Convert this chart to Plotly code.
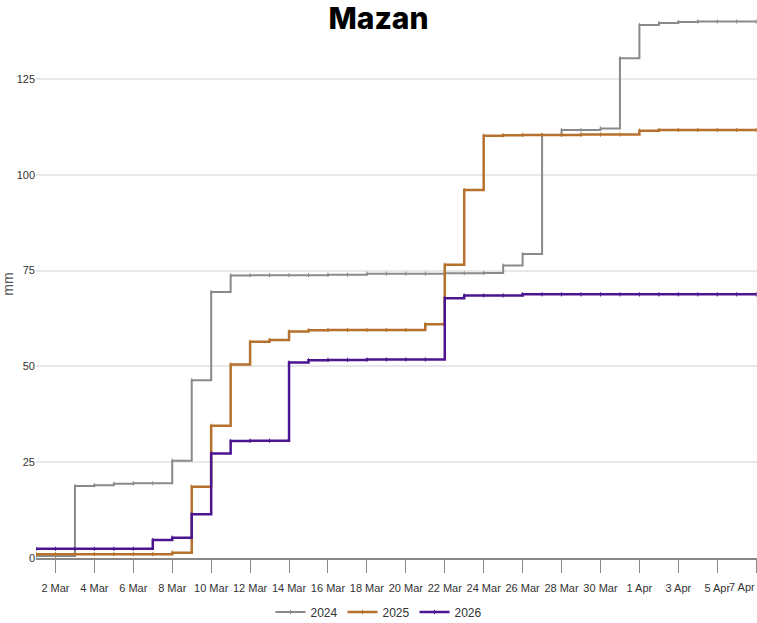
import plotly.graph_objects as go
import pandas as pd

# daily dates 1 Mar .. 7 Apr
dates = pd.date_range('2026-03-01', '2026-04-07', freq='D')

rain_2024 = [0.5, 0.5, 18.8, 19.0, 19.4, 19.5, 19.5, 25.4, 46.4, 69.4,
             73.7, 73.8, 73.8, 73.8, 73.8, 73.9, 73.9, 74.2, 74.2, 74.2,
             74.2, 74.3, 74.3, 74.4, 76.3, 79.3, 110.4, 111.7, 111.7, 112.1,
             130.4, 139.1, 139.6, 139.9, 140.0, 140.0, 140.0, 140.0]
rain_2025 = [1.0, 1.0, 1.0, 1.0, 1.0, 1.0, 1.0, 1.4, 18.6, 34.5,
             50.5, 56.4, 56.9, 59.1, 59.4, 59.5, 59.5, 59.5, 59.5, 59.5,
             61.0, 76.5, 96.0, 110.2, 110.3, 110.4, 110.4, 110.4, 110.5, 110.5,
             110.5, 111.5, 111.7, 111.7, 111.7, 111.7, 111.7, 111.7]
rain_2026 = [2.4, 2.4, 2.4, 2.4, 2.4, 2.4, 4.7, 5.3, 11.4, 27.3,
             30.5, 30.6, 30.6, 51.0, 51.6, 51.7, 51.7, 51.8, 51.8, 51.8,
             51.8, 67.8, 68.5, 68.5, 68.5, 68.8, 68.8, 68.8, 68.8, 68.8,
             68.8, 68.8, 68.8, 68.8, 68.8, 68.8, 68.8, 68.8]

series = [('2024', rain_2024, '#8a8a8a', 2),
          ('2025', rain_2025, '#b5712d', 2.5),
          ('2026', rain_2026, '#4b1490', 2.5)]

tick_dates = pd.date_range('2026-03-02', '2026-04-07', freq='2D')
tick_text = [f'{d.day} {d.strftime("%b")}' for d in tick_dates]
# the last label sits on the right edge; it is drawn as an annotation, right-aligned
last_label = tick_text[-1]
tick_text[-1] = ''

small_font = 'Liberation Sans Narrow, Arial Narrow, Liberation Sans, sans-serif'

fig = go.Figure()
for name, vals, color, width in series:
    fig.add_trace(go.Scatter(
        x=dates, y=vals, name=name, mode='lines+markers',
        line=dict(color=color, width=width, shape='hv'),
        marker=dict(symbol='line-ns', size=3, line=dict(color=color, width=1)),
    ))

fig.add_annotation(x=tick_dates[-1], xref='x', y=0, yref='paper',
                   text=last_label, showarrow=False, xanchor='right', yanchor='top',
                   yshift=-21, xshift=1,
                   font=dict(family=small_font, size=11, color='#333333'))

fig.update_layout(
    width=757, height=623,
    margin=dict(l=36, r=0, t=10, b=65),
    plot_bgcolor='white', paper_bgcolor='white',
    title=dict(text='Mazan', x=0.5, xanchor='center', y=1 - 18 / 623, yanchor='middle',
               yref='container',
               font=dict(family='Inter, Lato, sans-serif', size=30, color='black', weight=800)),
    showlegend=True,
    legend=dict(orientation='h', x=0.5, xanchor='center', xref='container',
                y=1 - 612 / 623, yanchor='middle', yref='container',
                font=dict(family=small_font, size=12, color='#333333'),
                entrywidth=27, entrywidthmode='pixels', bgcolor='rgba(0,0,0,0)'),
    xaxis=dict(range=[dates[0], dates[-1] + pd.Timedelta(hours=1)],
               tickvals=tick_dates, ticktext=tick_text, tickangle=0,
               showgrid=False, showline=True, linecolor='#888888', linewidth=2,
               ticks='outside', ticklen=13, tickcolor='#888888', tickwidth=1,
               ticklabelstandoff=6, automargin=False,
               tickfont=dict(family=small_font, size=11, color='#333333'),
               zeroline=False),
    yaxis=dict(range=[0, 143], tickvals=[0, 25, 50, 75, 100, 125],
               showgrid=True, gridcolor='#e8e8e8', gridwidth=1.5,
               showline=False, zeroline=False, ticks='', automargin=False,
               tickfont=dict(family=small_font, size=11, color='#333333'),
               title=dict(text='mm', standoff=4,
                          font=dict(family=small_font, size=14, color='#555555'))),
)

# drop the default body margin so the figure sits at the page corner
fig.write_html("out.html", config={'displayModeBar': False},
               post_script="document.body.style.margin='0';")
